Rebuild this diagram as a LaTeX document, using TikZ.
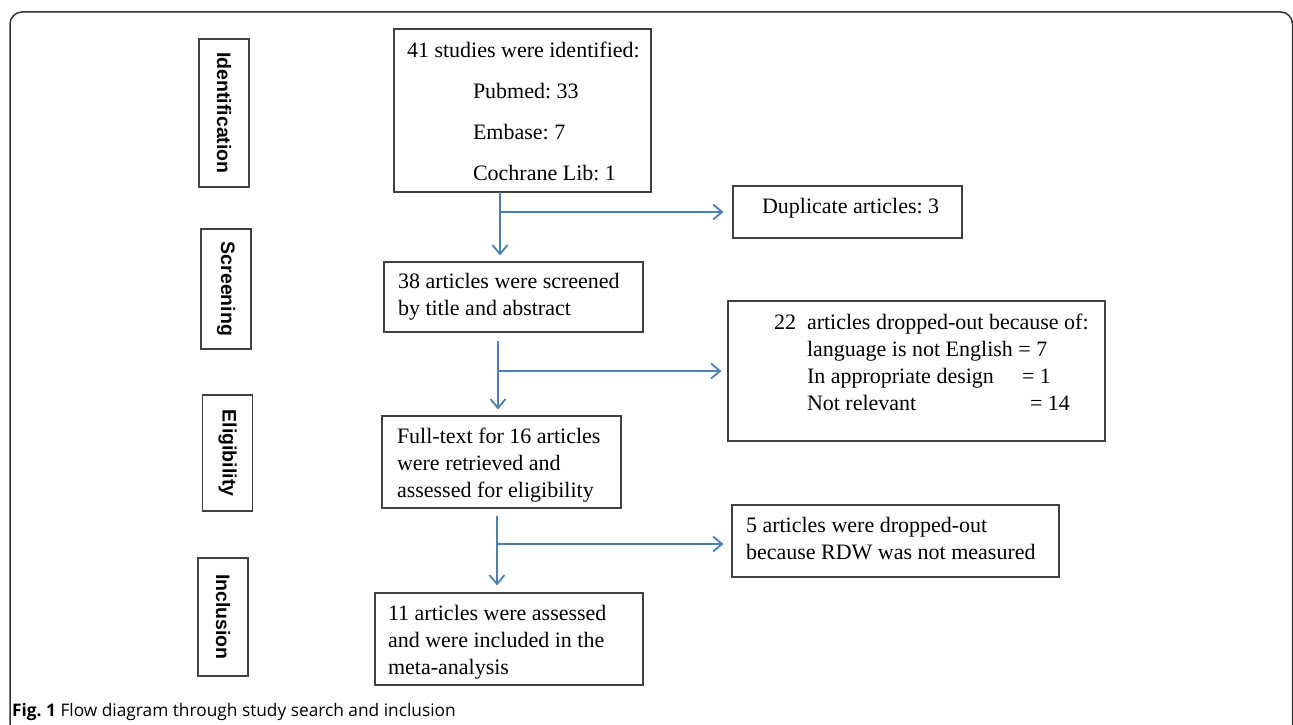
\documentclass[tikz,border=0pt]{standalone}
\usepackage{fontspec}
\setmainfont{Liberation Serif}
\newfontfamily\lblfont{Liberation Sans}
\newfontfamily\capfont{Open Sans}
\usetikzlibrary{arrows.meta,calc}
\definecolor{arrowblue}{HTML}{4A7EBB}
\definecolor{boxgray}{HTML}{404040}
\definecolor{framegray}{HTML}{333333}
\newcommand{\bxt}[2]{\makebox[#1][l]{\begin{tabular}{@{}l@{}}#2\end{tabular}}}
\newcommand{\shiftup}[2]{\raisebox{#1}[\height][\depth]{#2}}
\frenchspacing
\begin{document}
\begin{tikzpicture}[x=1pt,y=-1pt,
  box/.style={draw=boxgray, line width=1.1pt, inner ysep=0pt,
    font=\fontsize{22}{27}\selectfont},
  stage/.style={draw=boxgray, line width=1.1pt, rotate=-90, inner sep=0pt,
    font=\lblfont\bfseries\fontsize{19.5}{23}\selectfont, minimum height=50pt},
  arr/.style={draw=arrowblue, line width=1.8pt, -{Straight Barb[length=9pt,width=15pt,line width=1.8pt]}}
]
\useasboundingbox (0,0) rectangle (1293,725);
\begin{scope}
\clip (0,0) rectangle (1293,725);
\draw[framegray, line width=1.5pt, rounded corners=12pt] (10,760) -- (10,12) -- (1292.5,12) -- (1292.5,760);
\end{scope}

% stage labels
\node[stage, minimum width=148pt] (sid) at (224,113) {Identification};
\node[stage, minimum width=120pt] (sscr) at (226,289) {Screening};
\node[stage, minimum width=116pt] (selig) at (227.5,453) {Eligibility};
\node[stage, minimum width=118pt] (sinc) at (223,617) {Inclusion};

% main boxes
\node[box, inner xsep=13pt, minimum height=163pt] (b1) at (522.5,110.5)
  {\shiftup{-3pt}{\bxt{231pt}{41 studies were identified:\\[14pt]
   \hspace*{66pt}Pubmed: 33\\[14pt]
   \hspace*{66pt}Embase: 7\\[14pt]
   \hspace*{66pt}Cochrane Lib: 1}}};
\node[box, inner xsep=29pt, minimum height=52pt] (dup) at (847.5,212)
  {\shiftup{3.5pt}{\bxt{171pt}{Duplicate articles: 3}}};
\node[box, inner xsep=14pt, minimum height=70pt] (b2) at (513.5,297)
  {\bxt{231pt}{38 articles were screened\\by title and abstract}};
\node[box, inner xsep=46pt, minimum height=140pt] (drop22) at (916.5,371)
  {\shiftup{6pt}{\bxt{285pt}{%
   22\ \ articles dropped-out because of:\\
   \hspace*{33pt}language is not English = 7\\
   \hspace*{33pt}\makebox[215pt][l]{In appropriate design}= 1\\
   \hspace*{33pt}\makebox[223pt][l]{Not relevant}= 14}}};
\node[box, inner xsep=15pt, minimum height=92pt] (b3) at (501.5,462)
  {\shiftup{-3pt}{\bxt{209pt}{Full-text for 16 articles\\were retrieved and\\assessed for eligibility}}};
\node[box, inner xsep=14pt, minimum height=72pt] (drop5) at (895.5,541)
  {\bxt{299pt}{5 articles were dropped-out\\because RDW was not measured}};
\node[box, inner xsep=13pt, minimum height=92pt] (b4) at (509,639)
  {\shiftup{-3pt}{\bxt{242pt}{11 articles were assessed\\and were included in the\\meta-analysis}}};

% connectors
\coordinate (s1) at (500,192);
\coordinate (s2) at (498,341);
\coordinate (s3) at (497,516);
\coordinate (h3) at (497,544);
\draw[arr, shorten >=6pt] (s1) -- (s1 |- b2.north);
\draw[arr, shorten >=9pt] (s1 |- dup.west) -- (dup.west);
\draw[arr, shorten >=6pt] (s2) -- (s2 |- b3.north);
\draw[arr, shorten >=6pt] (s2 |- drop22.west) -- (drop22.west);
\draw[arr, shorten >=7pt] (s3) -- (s3 |- b4.north);
\draw[arr, shorten >=8pt] (h3) -- (h3 -| drop5.west);

% caption
\node[anchor=west, inner sep=0pt, font=\capfont\fontsize{17.3}{21}\selectfont] (cap) at (12,712)
  {\textbf{Fig. 1} Flow diagram through study search and inclusion};
\end{tikzpicture}
\end{document}
